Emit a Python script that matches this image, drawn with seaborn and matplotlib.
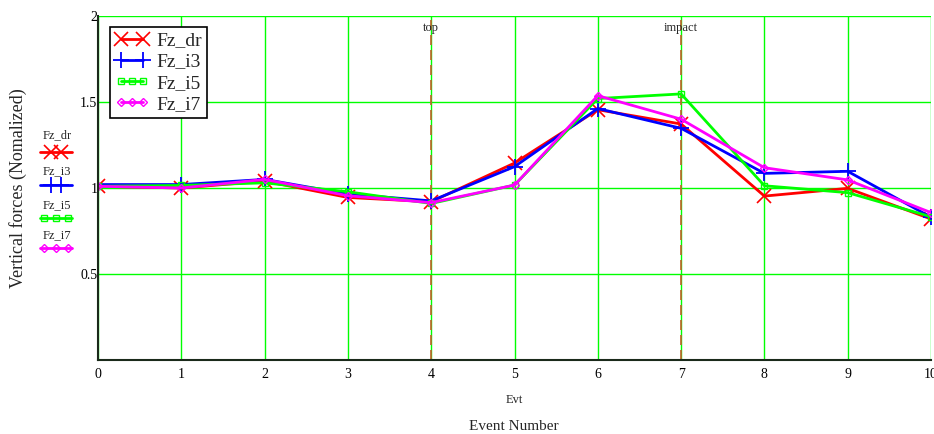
import numpy as np
import pandas as pd
import matplotlib
matplotlib.use("Agg")
import matplotlib.pyplot as plt
from matplotlib.lines import Line2D
from matplotlib.legend_handler import HandlerLine2D
import seaborn as sns

# ---- data ----
events = [0, 1, 2, 3, 4, 5, 6, 7, 8, 9, 10]
fz_dr = [1.01, 1.00, 1.04, 0.945, 0.92, 1.145, 1.455, 1.372, 0.953, 0.998, 0.82]
fz_i3 = [1.02, 1.02, 1.05, 0.965, 0.925, 1.124, 1.462, 1.347, 1.085, 1.097, 0.83]
fz_i5 = [1.01, 1.015, 1.03, 0.978, 0.91, 1.017, 1.52, 1.547, 1.013, 0.973, 0.833]
fz_i7 = [1.01, 1.00, 1.05, 0.955, 0.915, 1.017, 1.537, 1.40, 1.118, 1.047, 0.857]
series_names = ["Fz_dr", "Fz_i3", "Fz_i5", "Fz_i7"]
event_marks = [4, 7]
event_labels = ["top", "impact"]
y_ticks = [0, 0.5, 1, 1.5, 2]
y_tick_labels = ["", "0.5", "1", "1.5", "2"]

sns.set_style("white")
plt.rcParams["font.family"] = ["Liberation Serif", "DejaVu Serif"]

colors = {"Fz_dr": "#ff0000", "Fz_i3": "#0000ff", "Fz_i5": "#00ff00", "Fz_i7": "#ff00ff"}
marker_style = {
    "Fz_dr": dict(marker="x", ms=10, mew=1.2),
    "Fz_i3": dict(marker="+", ms=12, mew=1.3),
    "Fz_i5": dict(marker="s", ms=5, mew=1.0, mfc="none"),
    "Fz_i7": dict(marker="D", ms=4.5, mew=1.0, mfc="none"),
}
npts = {"Fz_dr": 2, "Fz_i3": 2, "Fz_i5": 3, "Fz_i7": 3}

df = pd.DataFrame({"Evt": events * 4,
                   "val": fz_dr + fz_i3 + fz_i5 + fz_i7,
                   "series": sum([[n] * len(events) for n in series_names], [])})

fig = plt.figure(figsize=(9.34, 4.34), dpi=100)
ax = fig.add_axes([98 / 934, 74 / 434, 833 / 934, 344 / 434])

# grid
for xv in events:
    ax.axvline(xv, color="#00ff00", lw=1.0, zorder=0.5)
for yv in [0.5, 1, 1.5, 2]:
    ax.axhline(yv, color="#00ff00", lw=1.0, zorder=0.5)

# event markers
for xv, lab in zip(event_marks, event_labels):
    ax.axvline(xv, color="#c0602a", lw=1.2, ls=(0, (6, 3)), zorder=0.6)
    ax.text(xv, 0.965, lab, transform=ax.get_xaxis_transform(), ha="center",
            va="center", fontsize=9)

for name in series_names:
    sub = df[df["series"] == name]
    sns.lineplot(data=sub, x="Evt", y="val", ax=ax, color=colors[name], lw=2.0,
                 legend=False, mec=colors[name], **marker_style[name])

ax.set_xlim(0, 10)
ax.set_ylim(0, 2)
ax.set_xticks(events)
ax.set_xticklabels([str(e) for e in events], fontsize=10)
ax.set_yticks(y_ticks)
ax.set_yticklabels(y_tick_labels, fontsize=10)
ax.tick_params(direction="inout", length=7, width=1, colors="black")
ax.tick_params(axis="x", pad=2)
ax.tick_params(axis="y", pad=-3)
for s in ["top", "right"]:
    ax.spines[s].set_visible(False)
for s in ["left", "bottom"]:
    ax.spines[s].set_color("#1a2a1a")
    ax.spines[s].set_linewidth(1.5)
ax.set_xlabel("")
ax.set_ylabel("")

# legend inside
proxies = []
hmap = {}
for name in series_names:
    p = Line2D([], [], color=colors[name], lw=2.0, mec=colors[name], **marker_style[name])
    proxies.append(p)
    hmap[p] = HandlerLine2D(numpoints=npts[name])
leg = ax.legend(proxies, series_names, handler_map=hmap, loc="upper left",
                bbox_to_anchor=(12 / 833, 1 - 11 / 344), fontsize=14,
                frameon=True, fancybox=False, edgecolor="black", framealpha=1,
                borderpad=0.25, labelspacing=0.18, handlelength=1.75,
                handletextpad=0.4, borderaxespad=0)
leg.get_frame().set_linewidth(1.2)

# left side legend (outside)
W, H = 934, 434
text_y = [135, 171, 205, 235]
line_y = [152, 185, 218, 248]
for name, ty, ly in zip(series_names, text_y, line_y):
    fig.text(43 / W, 1 - ty / H, name, fontsize=9, ha="left", va="center")
    xs = np.linspace(40, 72, npts[name] + 2)[1:-1] if npts[name] == 2 else np.linspace(44, 68, 3)
    fig.add_artist(Line2D([40 / W, 72 / W], [1 - ly / H] * 2, color=colors[name], lw=2.0,
                          transform=fig.transFigure))
    fig.add_artist(Line2D(xs / W, [1 - ly / H] * len(xs), color=colors[name], lw=0,
                          mec=colors[name], transform=fig.transFigure, **marker_style[name]))

fig.text(18 / W, 1 - 188 / H, "Vertical forces (Nomalized)", rotation=90,
         fontsize=13, ha="center", va="center")
fig.text(514 / W, 1 - 400 / H, "Evt", fontsize=9, ha="center", va="center")
fig.text(514 / W, 1 - 427 / H, "Event Number", fontsize=11, ha="center", va="center")

fig.savefig("out.png", dpi=100)
